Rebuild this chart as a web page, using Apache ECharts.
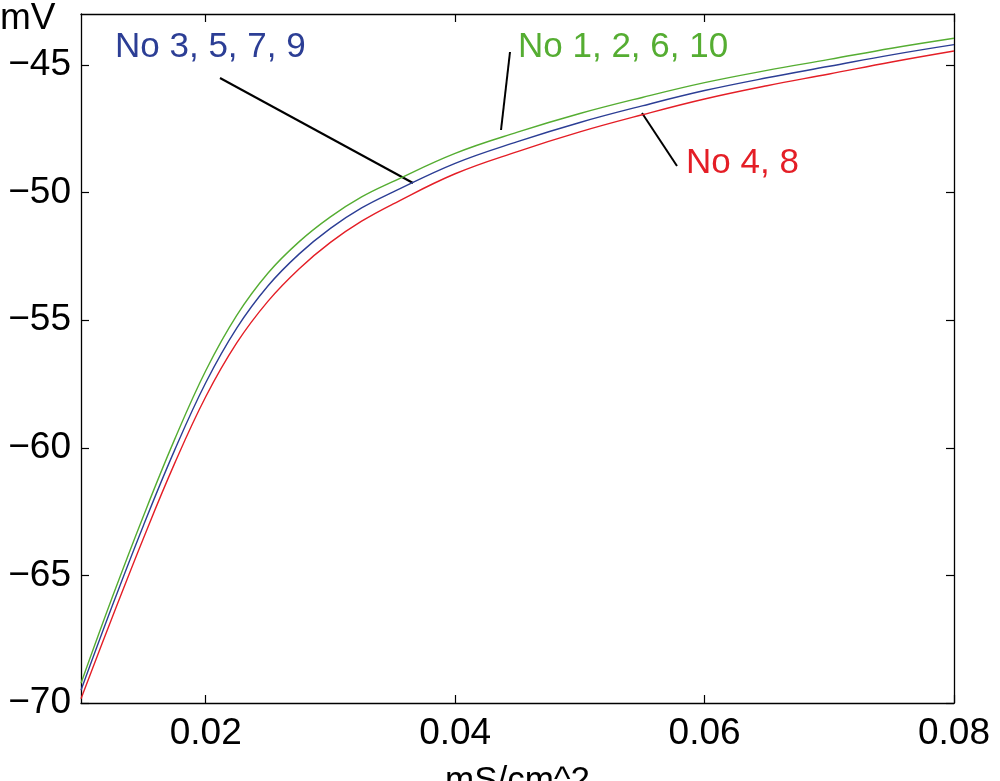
<!DOCTYPE html>
<html>
<head>
<meta charset="utf-8">
<script src="https://cdn.jsdelivr.net/npm/echarts@6/dist/echarts.min.js"></script>
<style>
html, body { margin: 0; padding: 0; background: #fff; }
#chart { width: 1000px; height: 781px; }
</style>
</head>
<body>
<div id="chart"></div>
<script>
// conductance (mS/cm^2)
var xValues = [0.010, 0.0125, 0.015, 0.0175, 0.020, 0.0225, 0.025, 0.0275, 0.030, 0.0325,
               0.035, 0.040, 0.045, 0.050, 0.055, 0.060, 0.065, 0.070, 0.075, 0.080];
// membrane potential (mV)
var greenVals = [-69.23, -65.87, -62.68, -59.68, -56.98, -54.8, -53.15, -51.92, -50.95, -50.17,
                 -49.57, -48.46, -47.63, -46.9, -46.27, -45.69, -45.21, -44.78, -44.34, -43.95];
var blueVals = [-69.5, -66.2, -63.05, -60.1, -57.45, -55.3, -53.65, -52.4, -51.4, -50.6,
                -49.98, -48.85, -48.0, -47.25, -46.6, -46.0, -45.5, -45.05, -44.6, -44.2];
var redVals = [-69.83, -66.65, -63.55, -60.62, -58.0, -55.88, -54.25, -52.98, -51.95, -51.12,
               -50.45, -49.26, -48.39, -47.62, -46.95, -46.33, -45.81, -45.35, -44.88, -44.45];
var xTicks = [0.02, 0.04, 0.06, 0.08];
var yTicks = [-70, -65, -60, -55, -50, -45];

var colors = { green: '#55ad32', blue: '#2c3e95', red: '#e41e26' };
var font = '"Liberation Sans", Arial, Helvetica, sans-serif';

function pairs(ys) {
    return xValues.map(function (x, i) { return [x, ys[i]]; });
}

var myChart = echarts.init(document.getElementById('chart'));

var axisLine = { show: true, lineStyle: { color: '#000', width: 1.3 } };

var option = {
    animation: false,
    backgroundColor: '#fff',
    grid: { left: 81, top: 14, right: 46, bottom: 78, outerBoundsMode: 'none' },
    xAxis: [
        {
            type: 'value', min: 0.01, max: 0.08, position: 'bottom',
            name: 'mS/cm^2', nameLocation: 'middle', nameGap: 61,
            nameTextStyle: { fontFamily: font, fontSize: 35, color: '#000' },
            axisLine: axisLine,
            axisTick: { inside: true, length: 8, customValues: xTicks, lineStyle: { color: '#000', width: 1.2 } },
            axisLabel: {
                customValues: xTicks, margin: 12,
                fontFamily: font, fontSize: 37, color: '#000',
                formatter: function (v) { return v.toFixed(2); }
            },
            splitLine: { show: false }
        },
        {
            type: 'value', min: 0.01, max: 0.08, position: 'top',
            axisLine: axisLine,
            axisTick: { inside: true, length: 8, customValues: xTicks, lineStyle: { color: '#000', width: 1.2 } },
            axisLabel: { show: false },
            splitLine: { show: false }
        }
    ],
    yAxis: [
        {
            type: 'value', min: -70, max: -43, position: 'left',
            axisLine: axisLine,
            axisTick: { inside: true, length: 8, customValues: yTicks, lineStyle: { color: '#000', width: 1.2 } },
            axisLabel: {
                customValues: yTicks, margin: 10,
                fontFamily: font, fontSize: 37, color: '#000',
                formatter: function (v) { return String(v).replace('-', '\u2212'); }
            },
            splitLine: { show: false }
        },
        {
            type: 'value', min: -70, max: -43, position: 'right',
            axisLine: axisLine,
            axisTick: { inside: true, length: 8, customValues: yTicks, lineStyle: { color: '#000', width: 1.2 } },
            axisLabel: { show: false },
            splitLine: { show: false }
        }
    ],
    series: [
        {
            name: 'No 1, 2, 6, 10', type: 'line', smooth: 0.4, symbol: 'none',
            data: pairs(greenVals), lineStyle: { color: colors.green, width: 1.4 }
        },
        {
            name: 'No 3, 5, 7, 9', type: 'line', smooth: 0.4, symbol: 'none',
            data: pairs(blueVals), lineStyle: { color: colors.blue, width: 1.4 }
        },
        {
            name: 'No 4, 8', type: 'line', smooth: 0.4, symbol: 'none',
            data: pairs(redVals), lineStyle: { color: colors.red, width: 1.4 }
        }
    ],
    graphic: [
        { type: 'text', left: 0, top: 0,
          style: { text: 'mV', font: '37px ' + font, fill: '#000' } },
        // annotations
        { type: 'text', x: 115, y: 47,
          style: { text: 'No 3, 5, 7, 9', font: '35px ' + font, fill: colors.blue, verticalAlign: 'middle' } },
        { type: 'line', shape: { x1: 220, y1: 78, x2: 413, y2: 183 }, style: { stroke: '#000', lineWidth: 2 } },
        { type: 'text', x: 518, y: 47,
          style: { text: 'No 1, 2, 6, 10', font: '35px ' + font, fill: colors.green, verticalAlign: 'middle' } },
        { type: 'line', shape: { x1: 510, y1: 52, x2: 501, y2: 130 }, style: { stroke: '#000', lineWidth: 2 } },
        { type: 'text', x: 686, y: 163,
          style: { text: 'No 4, 8', font: '35px ' + font, fill: colors.red, verticalAlign: 'middle' } },
        { type: 'line', shape: { x1: 642, y1: 113, x2: 677, y2: 166 }, style: { stroke: '#000', lineWidth: 2 } }
    ]
};

myChart.setOption(option);
</script>
</body>
</html>
